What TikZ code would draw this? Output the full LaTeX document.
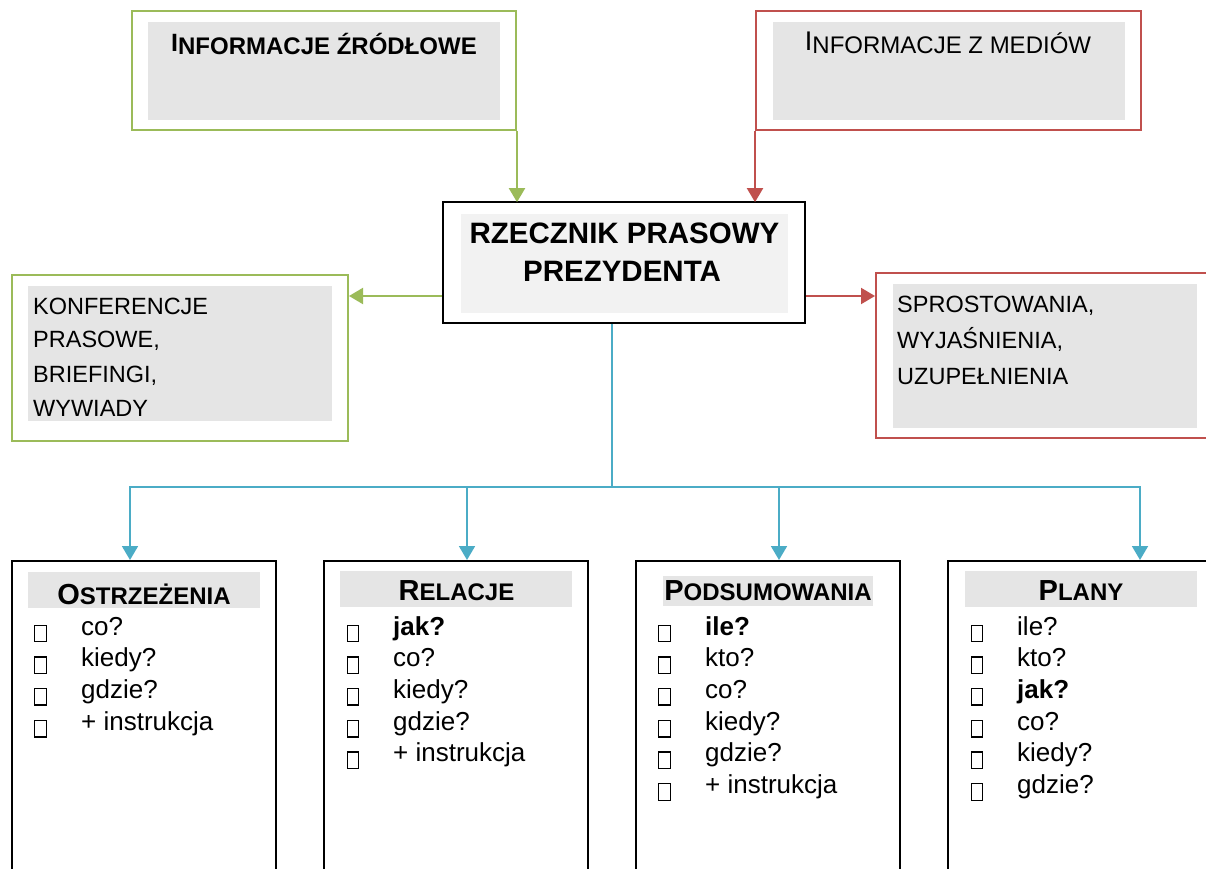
\documentclass[tikz,border=0pt]{standalone}
\usepackage{fontspec}
\setmainfont{Liberation Sans}
\usetikzlibrary{arrows.meta,calc}
\definecolor{ogreen}{RGB}{155,187,89}
\definecolor{ored}{RGB}{192,80,77}
\definecolor{oblue}{RGB}{75,172,198}
\definecolor{boxgray}{RGB}{229,229,229}
\definecolor{lightgray}{RGB}{242,242,242}
\newcommand\scfirst[2]{{\fontsize{29}{30}\selectfont #1}{\fontsize{24}{30}\selectfont #2}}
\begin{document}
\begin{tikzpicture}[x=1pt,y=-1pt,
  obox/.style={draw=#1,line width=2pt,inner sep=0pt,fill=white},
  kbox/.style={draw=black,line width=2pt,inner sep=0pt,fill=white},
  gfill/.style={fill=boxgray,inner sep=0pt},
  body/.style={anchor=base west,inner sep=0pt,font=\fontsize{23.5}{28}\selectfont},
  item/.style={anchor=base west,inner sep=0pt,font=\fontsize{26}{28}\selectfont},
  head/.style={anchor=base,inner sep=0pt,font=\bfseries},
  sq/.style={draw=black,line width=1.4pt,minimum width=11.5pt,minimum height=16.5pt,inner sep=0pt},
  tip/.style={-{Triangle[width=16pt,length=14pt]}},
  garrow/.style={tip,draw=ogreen,line width=2pt},
  rarrow/.style={tip,draw=ored,line width=2pt},
  bline/.style={draw=oblue,line width=1.8pt},
  barrow/.style={tip,draw=oblue,line width=1.8pt},
]
\useasboundingbox (0,0) rectangle (1206,869);
\clip (0,0) rectangle (1206,869);
\fill[white] (0,0) rectangle (1206,869);

% top left
\node[obox=ogreen,minimum width=384pt,minimum height=119pt] (src) at (324,70.5) {};
\node[gfill,minimum width=352pt,minimum height=98pt] (srcin) at (324,71) {};
\node[head] (srctxt) at (324,55) {{\fontsize{25}{25}\selectfont\raisebox{3pt}{I}}{\fontsize{24}{25}\selectfont NFORMACJE ŹRÓDŁOWE}};

% top right
\node[obox=ored,minimum width=385pt,minimum height=119pt] (med) at (948.5,70.5) {};
\node[gfill,minimum width=352pt,minimum height=98pt] (medin) at (949,71) {};
\node[anchor=base,inner sep=0pt] (medtxt) at (948,54) {{\fontsize{27}{25}\selectfont\raisebox{3pt}{I}}{\fontsize{24}{25}\selectfont NFORMACJE Z MEDIÓW}};

% center
\node[draw=black,line width=2.7pt,inner sep=0pt,fill=white,minimum width=362pt,minimum height=121pt] (rz) at (624,262.5) {};
\node[fill=lightgray,inner sep=0pt,minimum width=327pt,minimum height=99pt] (rzin) at (624.5,263.5) {};
\node[head,font=\bfseries\fontsize{29.5}{30}\selectfont] (rz1) at (624.5,243) {RZECZNIK PRASOWY};
\node[head,font=\bfseries\fontsize{29.5}{30}\selectfont] (rz2) at (622,281) {PREZYDENTA};

% left
\node[obox=ogreen,minimum width=336pt,minimum height=166pt] (konf) at (180,358) {};
\node[gfill,minimum width=304pt,minimum height=135pt] (konfin) at (180,353.5) {};
\node[body] (k1) at (33,314) {KONFERENCJE};
\node[body] (k2) at (33,347.5) {PRASOWE,};
\node[body] (k3) at (33,382) {BRIEFINGI,};
\node[body] (k4) at (33,416) {WYWIADY};

% right
\node[obox=ored,minimum width=346pt,minimum height=165pt] (spr) at (1049,355.5) {};
\node[gfill,minimum width=304pt,minimum height=144pt] (sprin) at (1045,356) {};
\node[body] (s1) at (897,312) {SPROSTOWANIA,};
\node[body] (s2) at (897,348) {WYJAŚNIENIA,};
\node[body] (s3) at (897,384) {UZUPEŁNIENIA};

% bottom boxes
\node[kbox,minimum width=264pt,minimum height=339pt] (b1) at (144,730.5) {};
\node[kbox,minimum width=264pt,minimum height=339pt] (b2) at (456,730.5) {};
\node[kbox,minimum width=264pt,minimum height=339pt] (b3) at (768,730.5) {};
\node[kbox,minimum width=264pt,minimum height=339pt] (b4) at (1080,730.5) {};

\node[gfill,minimum width=232pt,minimum height=36pt] (h1) at (144,590) {};
\node[gfill,minimum width=232pt,minimum height=36pt] (h2) at (456,589) {};
\node[gfill,minimum width=210pt,minimum height=30pt] (h3) at (768,591) {};
\node[gfill,minimum width=232pt,minimum height=36pt] (h4) at (1081,589) {};

\node[head] (h1t) at (144,604) {\scfirst{O}{STRZEŻENIA}};
\node[head] (h2t) at (456.5,600) {\scfirst{R}{ELACJE}};
\node[head] (h3t) at (768,600) {\scfirst{P}{ODSUMOWANIA}};
\node[head] (h4t) at (1081,600) {\scfirst{P}{LANY}};

\foreach \t [count=\i from 0] in {co?,kiedy?,gdzie?,+ instrukcja} {
  \node[item] (b1i\i) at (81,{635+31.7*\i}) {\t};
  \node[sq] (b1s\i) at (40.5,{633.5+31.7*\i}) {};
}
\foreach \t [count=\i from 0] in {\textbf{jak?},co?,kiedy?,gdzie?,+ instrukcja} {
  \node[item] (b2i\i) at (393,{635+31.7*\i}) {\t};
  \node[sq] (b2s\i) at (353,{633.5+31.7*\i}) {};
}
\foreach \t [count=\i from 0] in {\textbf{ile?},kto?,co?,kiedy?,gdzie?,+ instrukcja} {
  \node[item] (b3i\i) at (705,{635+31.7*\i}) {\t};
  \node[sq] (b3s\i) at (664.5,{633.5+31.7*\i}) {};
}
\foreach \t [count=\i from 0] in {ile?,kto?,\textbf{jak?},co?,kiedy?,gdzie?} {
  \node[item] (b4i\i) at (1017,{635+31.7*\i}) {\t};
  \node[sq] (b4s\i) at (977,{633.5+31.7*\i}) {};
}

% connectors
\coordinate (ylev) at (0,296);
\draw[garrow] (src.south east) -- ([yshift=-1.5pt]src.south east |- rz.north);
\draw[rarrow] (med.south west) -- ([yshift=-1.5pt]med.south west |- rz.north);
\draw[garrow] (rz.west |- ylev) -- (konf.east |- ylev);
\draw[rarrow] (rz.east |- ylev) -- (spr.west |- ylev);

\coordinate (hub) at (612,487);
\coordinate (x1) at (130,0);
\coordinate (x2) at (467,0);
\coordinate (x3) at (779,0);
\coordinate (x4) at (1140,0);
\draw[bline] (rz.south -| hub) -- (hub);
\draw[barrow] (hub) -| (b1.north -| x1);
\draw[barrow] (hub) -| (b2.north -| x2);
\draw[barrow] (hub) -| (b3.north -| x3);
\draw[barrow] (hub) -| (b4.north -| x4);
\end{tikzpicture}
\end{document}
